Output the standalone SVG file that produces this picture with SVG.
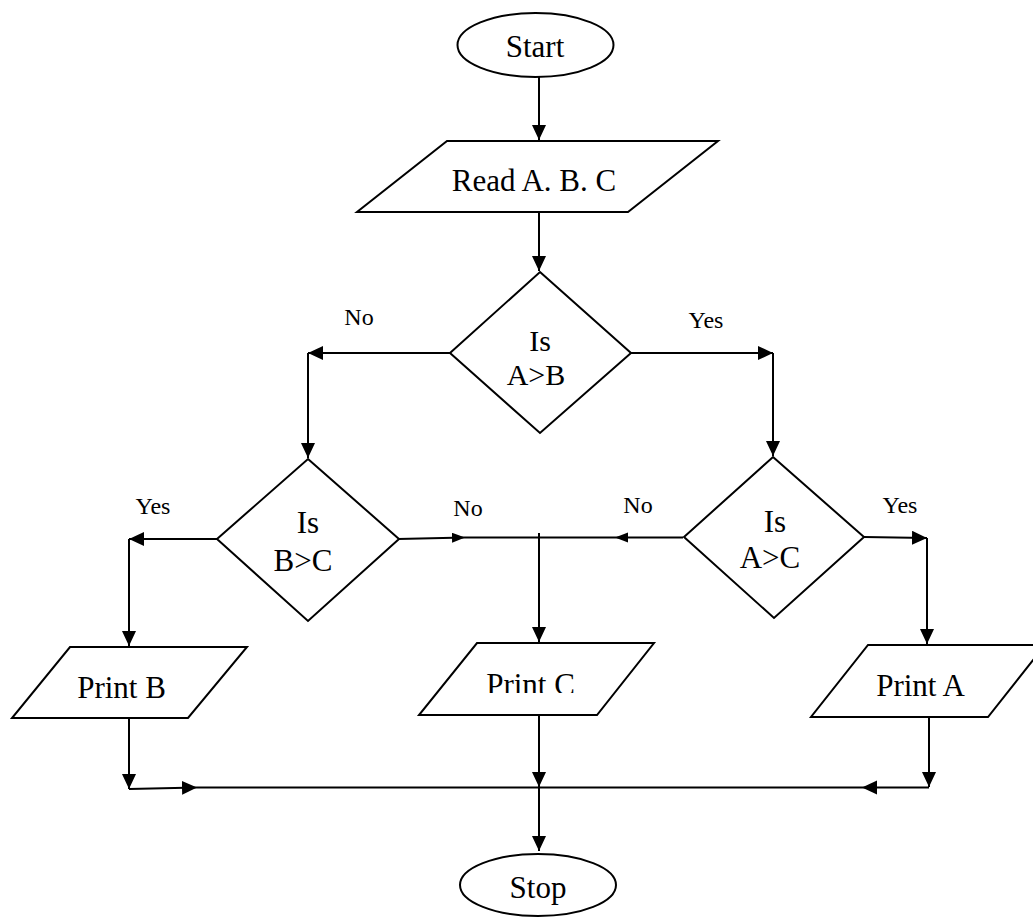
<svg xmlns="http://www.w3.org/2000/svg" width="1033" height="917" viewBox="0 0 1033 917">
<style>
.shape{fill:#fff;stroke:#000;stroke-width:2}
.ln{fill:none;stroke:#000;stroke-width:2}
.t{font-family:"Liberation Serif","Times New Roman",serif;font-size:31px;fill:#000;text-anchor:middle}
.lb{font-family:"Liberation Serif","Times New Roman",serif;font-size:24px;fill:#000;text-anchor:middle}
</style>
<defs>
<marker id="ah" markerUnits="userSpaceOnUse" markerWidth="16" markerHeight="15" refX="15" refY="7" orient="auto"><path d="M0,0 L15,7 L0,14 z" fill="#000"/></marker>
<marker id="as" markerUnits="userSpaceOnUse" markerWidth="14" markerHeight="11" refX="13" refY="5" orient="auto"><path d="M0,0 L13,5 L0,10 z" fill="#000"/></marker>
<clipPath id="clipC"><rect x="400" y="640" width="280" height="53"/></clipPath>
</defs>
<g id="connectors">
<path class="ln" d="M539,77 L539,140" marker-end="url(#ah)"/>
<path class="ln" d="M539,208 L539,271" marker-end="url(#ah)"/>
<path class="ln" d="M450,353 L308,353" marker-end="url(#ah)"/>
<path class="ln" d="M308,353 L308,458" marker-end="url(#ah)"/>
<path class="ln" d="M631,353 L773,353" marker-end="url(#ah)"/>
<path class="ln" d="M773,353 L773,456" marker-end="url(#ah)"/>
<path class="ln" d="M217,539 L129,539" marker-end="url(#ah)"/>
<path class="ln" d="M129,539 L129,646" marker-end="url(#ah)"/>
<path class="ln" d="M398,539 L465,537.5" marker-end="url(#as)"/>
<path class="ln" d="M465,537.5 L615,537.5"/>
<path class="ln" d="M683,537.5 L615,537.5" marker-end="url(#as)"/>
<path class="ln" d="M539,533 L539,642" marker-end="url(#ah)"/>
<path class="ln" d="M864,537 L927,538" marker-end="url(#ah)"/>
<path class="ln" d="M927,538 L927,644" marker-end="url(#ah)"/>
<path class="ln" d="M129,714 L129,789" marker-end="url(#ah)"/>
<path class="ln" d="M129,789 L197,787.5" marker-end="url(#ah)"/>
<path class="ln" d="M539,711 L539,787" marker-end="url(#ah)"/>
<path class="ln" d="M197,787.5 L862,787.5"/>
<path class="ln" d="M539,787 L539,851" marker-end="url(#ah)"/>
<path class="ln" d="M929,711 L929,787" marker-end="url(#ah)"/>
<path class="ln" d="M929,787.5 L862,787.5" marker-end="url(#ah)"/>
</g>
<g id="start">
<ellipse class="shape" cx="535.5" cy="45" rx="78" ry="32"/>
<text class="t" x="535" y="57">Start</text>
</g>
<g id="read">
<polygon class="shape" points="447,141 718,141 628,212 357,212"/>
<text class="t" x="534" y="191">Read A. B. C</text>
</g>
<g id="dec-ab">
<polygon class="shape" points="540,272 631,353 540,433 450,353"/>
<text class="t" x="540" y="351" style="font-size:30px">Is</text>
<text class="t" x="536" y="385" style="font-size:30px">A&gt;B</text>
</g>
<g id="dec-bc">
<polygon class="shape" points="308,459 399,539 308,621 217,539"/>
<text class="t" x="308" y="533">Is</text>
<text class="t" x="303" y="571">B&gt;C</text>
</g>
<g id="dec-ac">
<polygon class="shape" points="773,457 864,537 774,618 684,537"/>
<text class="t" x="775" y="532">Is</text>
<text class="t" x="770" y="568">A&gt;C</text>
</g>
<g id="print-b">
<polygon class="shape" points="70,647 247,647 188,718 12,718"/>
<text class="t" x="121.5" y="698">Print B</text>
</g>
<g id="print-c">
<polygon class="shape" points="477,643 654,643 597,715 419,715"/>
<text class="t" x="530.5" y="695" clip-path="url(#clipC)">Print C</text>
</g>
<g id="print-a">
<polygon class="shape" points="868,645 1045,645 988,717 811,717"/>
<text class="t" x="920.5" y="696">Print A</text>
</g>
<g id="stop">
<ellipse class="shape" cx="538" cy="885" rx="78" ry="31"/>
<text class="t" x="538" y="898">Stop</text>
</g>
<g id="labels">
<text class="lb" x="359" y="325">No</text>
<text class="lb" x="706" y="328">Yes</text>
<text class="lb" x="153" y="514">Yes</text>
<text class="lb" x="468" y="516">No</text>
<text class="lb" x="638" y="513">No</text>
<text class="lb" x="900" y="513">Yes</text>
</g>
</svg>
